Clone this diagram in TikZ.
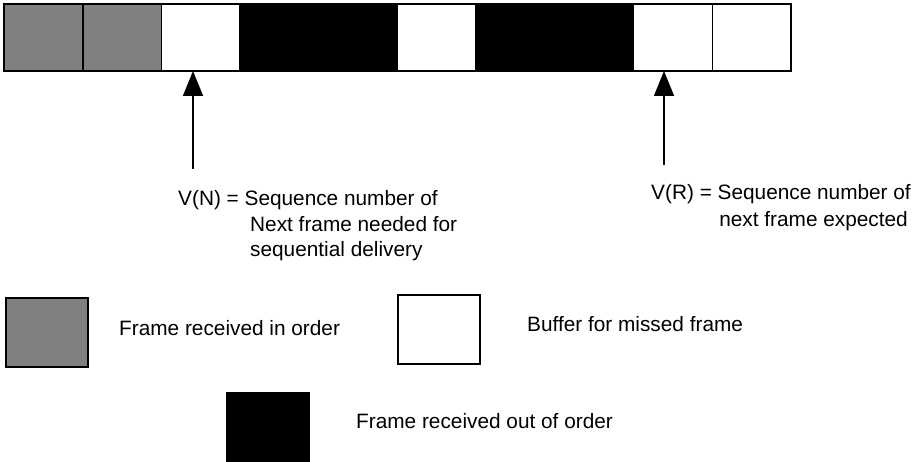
\documentclass[tikz,border=0pt]{standalone}
\usepackage{fontspec}
\setmainfont{Liberation Sans}
\usetikzlibrary{arrows.meta}
\begin{document}
\begin{tikzpicture}[x=1pt,y=-1pt,
  cell/.style={draw=black,line width=1.6pt,minimum width=78.7pt,minimum height=67pt,inner sep=0pt,outer sep=0pt,anchor=north west},
  lbl/.style={anchor=base west,inner sep=0pt,font=\fontsize{20.8}{25}\selectfont},
  lblr/.style={anchor=base east,inner sep=0pt,font=\fontsize{20.8}{25}\selectfont},
  ptr/.style={line width=1.6pt,-{Triangle[width=20pt,length=25pt]}},
  legbox/.style={draw=black,line width=1.6pt,minimum width=82pt,minimum height=69pt,inner sep=0pt,outer sep=0pt,anchor=north west}
]
\useasboundingbox (0,0) rectangle (912,462);
\colorlet{framegray}{black!50}
% strip of frames
\node[cell,fill=framegray] (c1) at (4,4) {};
\node[cell,fill=framegray] (c2) at (c1.north east) {};
\node[cell,fill=white] (c3) at (c2.north east) {};
\node[cell,fill=black,minimum width=157.4pt] (c4) at (c3.north east) {};
\node[cell,fill=white] (c5) at (c4.north east) {};
\node[cell,fill=black,minimum width=157.4pt] (c6) at (c5.north east) {};
\node[cell,fill=white] (c7) at (c6.north east) {};
\node[cell,fill=white] (c8) at (c7.north east) {};
% pointers
\coordinate (a1) at (193,169);
\coordinate (a2) at (664,165);
\draw[ptr] (a1) -- (a1 |- c3.south);
\draw[ptr] (a2) -- (a2 |- c7.south);
% V(N) label
\node[lbl] (vn1) at (178,206) {V(N) = Sequence number of};
\node[lbl] (vn2) at (250,232) {Next frame needed for};
\node[lbl] (vn3) at (250,257) {sequential delivery};
% V(R) label
\node[lblr] (vr1) at (911,200) {V(R) = Sequence number of};
\node[lblr] (vr2) at (908,226) {next frame expected};
% legend
\node[legbox,fill=framegray] (l1) at (6,298) {};
\node[lbl] (t1) at (119,335) {Frame received in order};
\node[legbox,fill=white] (l2) at (398,295) {};
\node[lbl] (t2) at (527,331) {Buffer for missed frame};
\node[legbox,fill=black] (l3) at (227,393) {};
\node[lbl] (t3) at (356,428) {Frame received out of order};
\end{tikzpicture}
\end{document}
